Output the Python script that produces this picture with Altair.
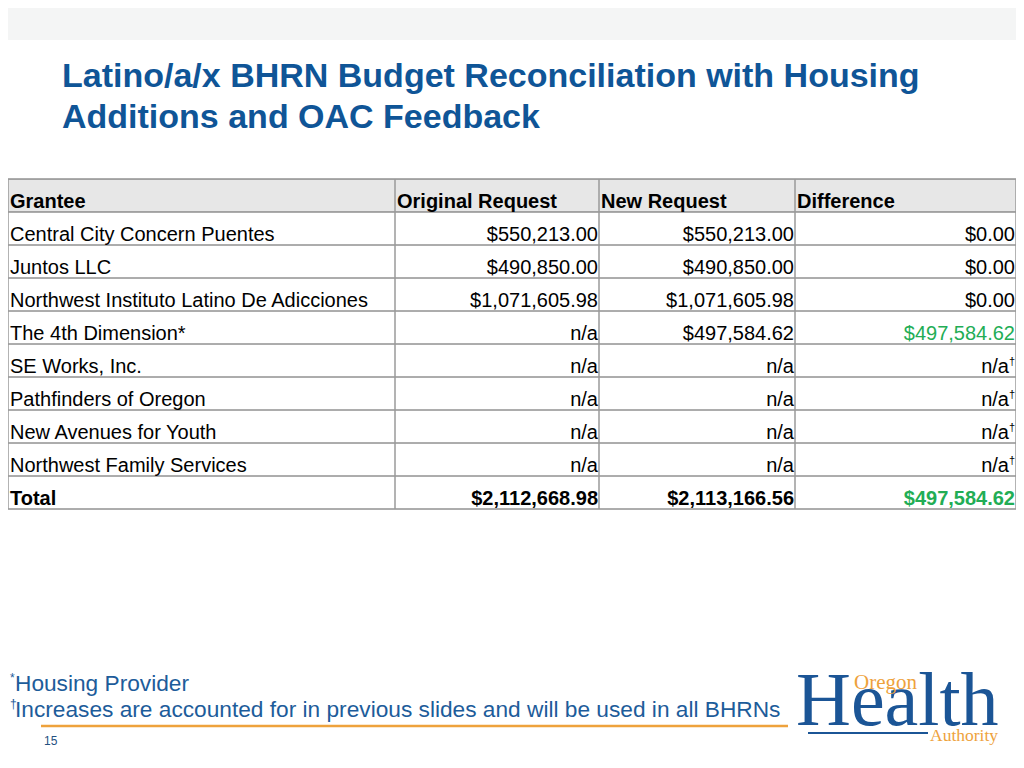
import altair as alt
import pandas as pd

# ---------------- data ----------------
headers = ["Grantee", "Original Request", "New Request", "Difference"]
grantees = [
    "Central City Concern Puentes",
    "Juntos LLC",
    "Northwest Instituto Latino De Adicciones",
    "The 4th Dimension*",
    "SE Works, Inc.",
    "Pathfinders of Oregon",
    "New Avenues for Youth",
    "Northwest Family Services",
]
original_request = ["$550,213.00", "$490,850.00", "$1,071,605.98", "n/a", "n/a", "n/a", "n/a", "n/a"]
new_request = ["$550,213.00", "$490,850.00", "$1,071,605.98", "$497,584.62", "n/a", "n/a", "n/a", "n/a"]
difference = ["$0.00", "$0.00", "$0.00", "$497,584.62", "n/a", "n/a", "n/a", "n/a"]
difference_note = ["", "", "", "", "\u2020", "\u2020", "\u2020", "\u2020"]
difference_increase = [False, False, False, True, False, False, False, False]
total_label = "Total"
totals = ["$2,112,668.98", "$2,113,166.56", "$497,584.62"]
totals_increase = [False, False, True]

title_lines = ["Latino/a/x BHRN Budget Reconciliation with Housing", "Additions and OAC Feedback"]
footnote_marks = ["*", "\u2020"]
footnote_texts = ["Housing Provider", "Increases are accounted for in previous slides and will be used in all BHRNs"]
page_number = "15"

# ---------------- styles / layout ----------------
W, H = 1008, 740
FONT = "Liberation Sans, Arial, Helvetica, sans-serif"
SERIF = "Liberation Serif, Times New Roman, serif"
BLUE = "#0f5597"
NOTE_BLUE = "#1d5c9a"
LOGO_BLUE = "#1b5596"
GREEN = "#22ad55"
ORANGE = "#eea23c"
COL_EDGES_PX = [0, 387, 591, 787, 1008]
N_ROWS = 10
TABLE_TOP, ROW_H = 171, 33

X_SCALE = alt.Scale(domain=list(range(len(COL_EDGES_PX))), range=COL_EDGES_PX, nice=False, zero=False)
Y_SCALE = alt.Scale(domain=[0, N_ROWS], range=[TABLE_TOP, TABLE_TOP + ROW_H * N_ROWS], nice=False, zero=False)


def X(field=None, **kw):
    if field is None:
        return alt.X(scale=X_SCALE, axis=None, **kw)
    return alt.X(field, scale=X_SCALE, axis=None, **kw)


def Y(field=None, **kw):
    if field is None:
        return alt.Y(scale=Y_SCALE, axis=None, **kw)
    return alt.Y(field, scale=Y_SCALE, axis=None, **kw)


one = pd.DataFrame({"k": [0]})

# ---------------- tables built from the arrays ----------------
header_df = pd.DataFrame({"c": list(range(len(headers))), "r": 0, "t": headers})
name_df = pd.DataFrame({"c": 0, "r": list(range(1, len(grantees) + 1)), "t": grantees})

cells = []
for i in range(len(grantees)):
    r = i + 1
    cells.append({"c": 2, "r": r, "t": original_request[i], "col": "#000000", "note": ""})
    cells.append({"c": 3, "r": r, "t": new_request[i], "col": "#000000", "note": ""})
    cells.append({"c": 4, "r": r, "t": difference[i],
                  "col": GREEN if difference_increase[i] else "#000000",
                  "note": difference_note[i]})
cells_df = pd.DataFrame(cells)
plain_df = cells_df[cells_df["note"] == ""]
noted_df = cells_df[cells_df["note"] != ""]

total_r = len(grantees) + 1
total_name_df = pd.DataFrame({"c": [0], "r": [total_r], "t": [total_label]})
total_df = pd.DataFrame({"c": [2, 3, 4], "r": total_r, "t": totals,
                         "col": [GREEN if b else "#000000" for b in totals_increase]})

row_lines = pd.DataFrame({"r": list(range(N_ROWS + 1))})
col_lines = pd.DataFrame({"c": list(range(len(COL_EDGES_PX)))})

# ---------------- layers ----------------
top_band = alt.Chart(one).mark_rect(color="#f4f5f5").encode(
    x=alt.value(0), x2=alt.value(W), y=alt.value(0), y2=alt.value(32))

header_bg = alt.Chart(one).mark_rect(color="#e7e7e7").encode(
    x=X(datum=0), x2=alt.X2(datum=4), y=Y(datum=0), y2=alt.Y2(datum=1))

h_rules = alt.Chart(row_lines).mark_rule(color="#5a5a5a", strokeWidth=1).encode(
    y=Y("r:Q"), x=X(datum=0), x2=alt.X2(datum=4))

v_rules = alt.Chart(col_lines).mark_rule(color="#9a9a9a", strokeWidth=1.5).encode(
    x=X("c:Q"), y=Y(datum=0), y2=alt.Y2(datum=N_ROWS))

txt = dict(font=FONT, fontSize=20, baseline="alphabetic", dy=28.5)

header_text = alt.Chart(header_df).mark_text(align="left", dx=2, fontWeight="bold", color="#000", **txt).encode(
    x=X("c:Q"), y=Y("r:Q"), text="t:N")

name_text = alt.Chart(name_df).mark_text(align="left", dx=2, color="#000", **txt).encode(
    x=X("c:Q"), y=Y("r:Q"), text="t:N")

plain_text = alt.Chart(plain_df).mark_text(align="right", dx=-1, **txt).encode(
    x=X("c:Q"), y=Y("r:Q"), text="t:N", color=alt.Color("col:N", scale=None))

noted_text = alt.Chart(noted_df).mark_text(align="right", dx=-7, **txt).encode(
    x=X("c:Q"), y=Y("r:Q"), text="t:N", color=alt.Color("col:N", scale=None))

note_marks = alt.Chart(noted_df).mark_text(align="right", dx=-1, dy=21, font=FONT, fontSize=11,
                                           baseline="alphabetic", color="#000").encode(
    x=X("c:Q"), y=Y("r:Q"), text="note:N")

total_name = alt.Chart(total_name_df).mark_text(align="left", dx=2, fontWeight="bold", color="#000", **txt).encode(
    x=X("c:Q"), y=Y("r:Q"), text="t:N")

total_text = alt.Chart(total_df).mark_text(align="right", dx=-1, fontWeight="bold", **txt).encode(
    x=X("c:Q"), y=Y("r:Q"), text="t:N", color=alt.Color("col:N", scale=None))

title_df = pd.DataFrame({"t": title_lines, "i": list(range(len(title_lines)))})
title = alt.Chart(title_df).mark_text(align="left", baseline="alphabetic", font=FONT, fontSize=34,
                                      fontWeight="bold", color=BLUE).encode(
    x=alt.value(54), y=alt.Y("i:Q", scale=alt.Scale(domain=[0, 1], range=[79, 120]), axis=None), text="t:N")

note_df = pd.DataFrame({"m": footnote_marks, "t": footnote_texts, "i": list(range(len(footnote_texts)))})
note_y = alt.Scale(domain=[0, 1], range=[683, 709])
notes = alt.Chart(note_df).mark_text(align="left", baseline="alphabetic", font=FONT, fontSize=22.7,
                                     color=NOTE_BLUE).encode(
    x=alt.value(7), y=alt.Y("i:Q", scale=note_y, axis=None), text="t:N")
note_sup = alt.Chart(note_df).mark_text(align="left", baseline="alphabetic", font=FONT, fontSize=12,
                                        color=NOTE_BLUE, dy=-9).encode(
    x=alt.value(2), y=alt.Y("i:Q", scale=note_y, axis=None), text="m:N")

orange_line = alt.Chart(one).mark_rule(color=ORANGE, strokeWidth=2.5).encode(
    x=alt.value(33), x2=alt.value(780), y=alt.value(718))

page_num = alt.Chart(pd.DataFrame({"t": [page_number]})).mark_text(
    align="left", baseline="alphabetic", font=FONT, fontSize=12, color="#24507f").encode(
    x=alt.value(36), y=alt.value(737), text="t:N")

logo_health = alt.Chart(pd.DataFrame({"t": ["Health"]})).mark_text(
    align="left", baseline="alphabetic", font=SERIF, fontSize=76, color=LOGO_BLUE).encode(
    x=alt.value(788), y=alt.value(717), text="t:N")
logo_oregon = alt.Chart(pd.DataFrame({"t": ["Oregon"]})).mark_text(
    align="left", baseline="alphabetic", font=SERIF, fontSize=21, color=ORANGE).encode(
    x=alt.value(846), y=alt.value(681), text="t:N")
logo_auth = alt.Chart(pd.DataFrame({"t": ["Authority"]})).mark_text(
    align="left", baseline="alphabetic", font=SERIF, fontSize=17.5, color=ORANGE).encode(
    x=alt.value(922), y=alt.value(733), text="t:N")
logo_line = alt.Chart(one).mark_rule(color=LOGO_BLUE, strokeWidth=2).encode(
    x=alt.value(800), x2=alt.value(920), y=alt.value(725))

chart = alt.layer(
    top_band, header_bg, h_rules, v_rules,
    header_text, name_text, plain_text, noted_text, note_marks, total_name, total_text,
    title, notes, note_sup, orange_line, page_num,
    logo_health, logo_oregon, logo_auth, logo_line,
).resolve_scale(y="independent").properties(
    width=W, height=H, autosize="none", padding=0, background="#ffffff"
).configure_view(stroke=None)

chart.save("out.html", embed_options={"renderer": "svg", "actions": False})
